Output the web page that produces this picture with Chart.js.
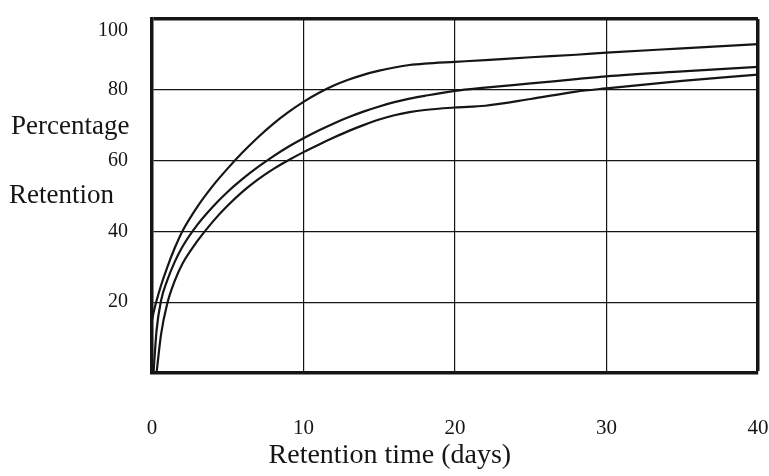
<!DOCTYPE html>
<html>
<head>
<meta charset="utf-8">
<script src="https://cdn.jsdelivr.net/npm/chart.js@4/dist/chart.umd.min.js"></script>
<style>
  html, body { margin: 0; padding: 0; background: #ffffff; }
  #wrap { width: 769px; height: 476px; }
</style>
</head>
<body>
<div id="wrap"><canvas id="c" width="769" height="476"></canvas></div>
<script>
// Retention time in days (x positions of the sampled points)
const days = [0, 0.1, 0.3, 0.6, 1, 1.5, 2, 3, 4, 5, 6, 7, 8, 9, 10, 11, 12, 13, 14, 15, 16, 17, 18, 20, 22, 25, 28, 30, 35, 40];
// Three retention curves (percentage)
const upperCurve  = [15, 17, 20.4, 24.8, 29.8, 35.3, 40, 47, 52.8, 57.8, 62.4, 66.6, 70.4, 73.7, 76.6, 79.1, 81.2, 82.9, 84.3, 85.4, 86.3, 87, 87.4, 87.9, 88.4, 89.2, 89.9, 90.5, 91.7, 92.9];
const middleCurve = [null, 0, 12, 20.5, 26.1, 31.4, 35.6, 41.9, 46.9, 51.2, 54.9, 58.2, 61.2, 63.9, 66.3, 68.5, 70.5, 72.3, 73.9, 75.3, 76.5, 77.5, 78.3, 79.7, 80.6, 81.8, 83.0, 83.8, 85.2, 86.5];
const lowerCurve  = [null, null, 0, 11, 19.5, 26, 30.8, 37.3, 42.7, 47.3, 51.3, 54.7, 57.6, 60.1, 62.4, 64.5, 66.5, 68.4, 70.1, 71.6, 72.8, 73.7, 74.3, 75.0, 75.5, 77.4, 79.5, 80.4, 82.5, 84.3];
// Axis ticks and texts
const xTicks = [0, 10, 20, 30, 40];
const yTicks = [0, 20, 40, 60, 80, 100];
const yLabelLines = ['Percentage', 'Retention'];
const xTitle = 'Retention time (days)';

function toPoints(vals) {
  return days.map((d, i) => ({ x: d, y: vals[i] })).filter(p => p.y !== null);
}

const SERIF = "'Liberation Serif', 'DejaVu Serif', serif";
const INK = '#151515';

const labelPlugin = {
  id: 'labelPlugin',
  afterDraw(chart) {
    const ctx = chart.ctx;
    const y = chart.scales.y;
    const x = chart.scales.x;
    const area = chart.chartArea;
    ctx.save();
    ctx.fillStyle = INK;
    ctx.textBaseline = 'middle';
    ctx.font = '27px ' + SERIF;
    ctx.textAlign = 'left';
    ctx.fillText(yLabelLines[0], 11, y.getPixelForValue(69.5));
    ctx.fillText(yLabelLines[1], 9, y.getPixelForValue(50));
    ctx.font = '28px ' + SERIF;
    ctx.textAlign = 'center';
    ctx.fillText(xTitle, x.getPixelForValue(15.7), area.bottom + 83);
    ctx.restore();
  }
};

const lineStyle = {
  borderColor: INK,
  borderWidth: 2.2,
  pointRadius: 0,
  fill: false,
  cubicInterpolationMode: 'monotone'
};

new Chart(document.getElementById('c'), {
  type: 'line',
  data: {
    datasets: [
      Object.assign({ label: 'Upper', data: toPoints(upperCurve) }, lineStyle),
      Object.assign({ label: 'Middle', data: toPoints(middleCurve) }, lineStyle),
      Object.assign({ label: 'Lower', data: toPoints(lowerCurve) }, lineStyle)
    ]
  },
  options: {
    responsive: false,
    animation: false,
    layout: { padding: { top: 19, right: 11, left: 0, bottom: 0 } },
    plugins: {
      legend: { display: false },
      tooltip: { enabled: false },
      title: { display: false }
    },
    scales: {
      x: {
        type: 'linear',
        min: 0, max: 40,
        afterBuildTicks(s) { s.ticks = xTicks.map(v => ({ value: v })); },
        afterFit(s) { s.height = 103; s.paddingLeft = 0; s.paddingRight = 0; },
        ticks: {
          color: INK,
          font: { family: SERIF, size: 21 },
          padding: 43,
          maxRotation: 0
        },
        grid: {
          color: INK,
          lineWidth: ctx => (ctx.tick && ctx.tick.value === 40 ? 3.5 : 1.2),
          drawTicks: false
        },
        border: { display: true, color: INK, width: 3.5 }
      },
      y: {
        type: 'linear',
        min: 0, max: 100,
        afterBuildTicks(s) { s.ticks = yTicks.map(v => ({ value: v })); },
        afterFit(s) { s.width = 152; s.paddingTop = 0; s.paddingBottom = 0; },
        ticks: {
          color: INK,
          font: { family: SERIF, size: 20 },
          padding: 24,
          callback: v => (v === 0 ? '' : (v === 100 ? ['', String(v)] : String(v)))
        },
        grid: {
          color: INK,
          lineWidth: ctx => (ctx.tick && ctx.tick.value === 100 ? 3.5 : 1.2),
          drawTicks: false
        },
        border: { display: true, color: INK, width: 3.5 }
      }
    }
  },
  plugins: [labelPlugin]
});
</script>
</body>
</html>
